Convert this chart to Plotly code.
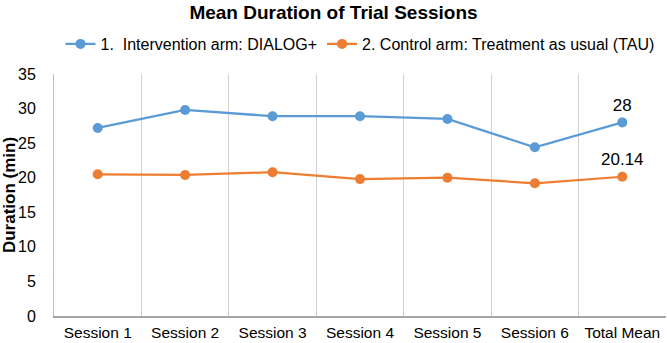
import plotly.graph_objects as go

categories = ["Session 1", "Session 2", "Session 3", "Session 4", "Session 5", "Session 6", "Total Mean"]
intervention = [27.2, 29.8, 28.9, 28.9, 28.5, 24.4, 28]
control = [20.5, 20.4, 20.8, 19.8, 20.0, 19.2, 20.14]
series_names = ["1.  Intervention arm: DIALOG+", "2. Control arm: Treatment as usual (TAU)"]
y_ticks = [0, 5, 10, 15, 20, 25, 30, 35]

FONT = "Liberation Sans, Arial, sans-serif"
colors = ["#5B9BD5", "#ED7D31"]


def last_label(vals):
    return [""] * (len(vals) - 1) + [f"{vals[-1]:g}"]


fig = go.Figure()
for name, vals, col in zip(series_names, [intervention, control], colors):
    fig.add_trace(go.Scatter(
        x=categories, y=vals, name=name,
        mode="lines+markers+text",
        text=last_label(vals), textposition="top center",
        textfont=dict(family=FONT, size=17, color="#000000"),
        line=dict(color=col, width=2.25),
        marker=dict(color=col, size=10),
        cliponaxis=False,
    ))

fig.update_layout(
    width=667, height=343,
    margin=dict(l=54, r=1, t=74, b=27, autoexpand=False),
    paper_bgcolor="white", plot_bgcolor="white",
    font=dict(family=FONT, size=16, color="#000000"),
    title=dict(text="<b>Mean Duration of Trial Sessions</b>", x=0.5, xanchor="center",
               y=0.963, yanchor="middle", font=dict(size=19, family=FONT)),
    legend=dict(orientation="h", x=0.5, xanchor="center", y=1.124, yanchor="middle",
                font=dict(size=16), itemwidth=30, traceorder="normal", tracegroupgap=0),
    showlegend=True,
)
fig.update_xaxes(
    type="category", range=[-0.5, len(categories) - 0.5], tickson="boundaries",
    showgrid=True, gridcolor="#D0D0D0", gridwidth=1,
    showline=True, linecolor="#A6A6A6", linewidth=1.5, ticks="", ticklabelstandoff=2,
    tickfont=dict(size=15.5), automargin=False,
)
fig.update_yaxes(
    range=[0, 35], tickvals=y_ticks, showgrid=False, zeroline=False,
    showline=True, linecolor="#BFBFBF", linewidth=1, ticks="", ticklabelstandoff=14,
    tickfont=dict(size=16), automargin=False,
    title=dict(text="<b>Duration (min)</b>", font=dict(size=17), standoff=8),
)

fig.write_html("out.html")
